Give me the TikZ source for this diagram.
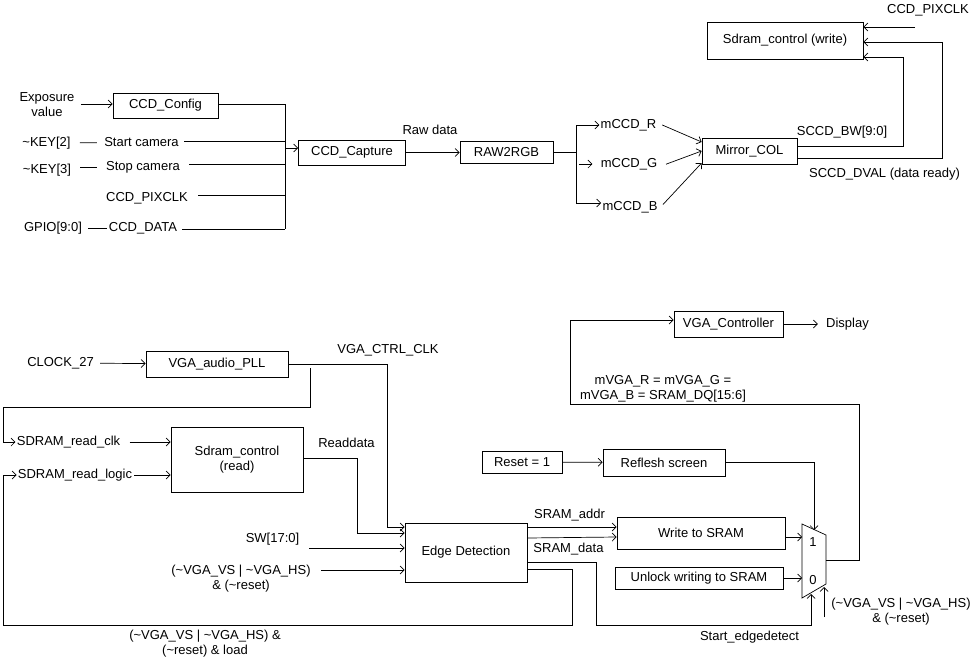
\documentclass[tikz,border=0pt]{standalone}
\usepackage{fontspec}
\setmainfont{Liberation Sans}
\usetikzlibrary{positioning, arrows.meta}

\begin{document}
\begin{tikzpicture}[x=1pt, y=-1pt, line width=0.7pt,
    >={Straight Barb[length=4pt,width=8pt]},
    font=\fontsize{13}{15}\selectfont,
    block/.style={rectangle, draw, inner sep=0pt},
    lbl/.style={inner sep=1pt, align=center}]
    \useasboundingbox (0,0) rectangle (977,661);

    % Nodes (capture path)
    \node[block, minimum width=105, minimum height=25] (cfg) at (165.5,105.5) {CCD\_Config};
    \node[block, minimum width=107, minimum height=25] (capture) at (352,152.5) {CCD\_Capture};
    \node[block, minimum width=93, minimum height=22] (rawrgb) at (506.5,152.5) {RAW2RGB};
    \node[block, minimum width=95, minimum height=26] (mirror) at (749.5,151) {Mirror\_COL};
    \node[block, minimum width=156, minimum height=37] (sdw) at (785,40.5) {Sdram\_control (write)};

    % Labels (capture path)
    \node[lbl] (expo) at (47,104.5) {Exposure\\value};
    \node[lbl] (key2) at (46.5,143) {\textasciitilde KEY[2]};
    \node[lbl] (start) at (141.5,142.5) {Start camera};
    \node[lbl] (key3) at (47,170) {\textasciitilde KEY[3]};
    \node[lbl] (stop) at (143,167) {Stop camera};
    \node[lbl] (pixclk) at (147,198) {CCD\_PIXCLK};
    \node[lbl] (gpio) at (53,228) {GPIO[9:0]};
    \node[lbl] (ccddata) at (143,228) {CCD\_DATA};
    \node[lbl] (raw) at (430,130) {Raw data};
    \node[lbl] (mr) at (628.5,125) {mCCD\_R};
    \node[lbl] (mg) at (629,164) {mCCD\_G};
    \node[lbl] (mb) at (630,207) {mCCD\_B};
    \node[lbl] (bw) at (842,132) {SCCD\_BW[9:0]};
    \node[lbl] (dval) at (884.5,174) {SCCD\_DVAL (data ready)};
    \node[lbl] (pixtop) at (928,10) {CCD\_PIXCLK};

    \coordinate (bustop) at (285,104);
    \coordinate (busbot) at (285,229);
    \coordinate (busmid) at (285,148);
    \coordinate (split) at (576,152.5);
    \coordinate (pixin) at (915,27);

    % Connections (capture path)
    \draw[->, shorten <=5pt] (expo.east |- 0,104) -- (cfg.west |- 0,104);
    \draw (cfg.east |- bustop) -- (bustop) -- (busbot);
    \draw[shorten <=8pt, shorten >=6pt] (key2) -- (start);
    \draw[shorten <=8pt, shorten >=8pt] (key3.east |- 0,167) -- (stop.west |- 0,167);
    \draw[shorten <=5pt, shorten >=1pt] (gpio) -- (ccddata);
    \draw[shorten <=4pt] (start.east |- 0,141) -- (bustop |- 0,141);
    \draw[shorten <=8pt] (stop.east |- 0,164) -- (bustop |- 0,164);
    \draw[shorten <=9pt] (pixclk.east |- 0,195) -- (bustop |- 0,195);
    \draw[shorten <=4pt] (ccddata.east |- busbot) -- (busbot);
    \draw[->] (busmid) -- (capture.west |- busmid);
    \draw[->] (capture) -- (rawrgb);
    \draw (rawrgb.east) -- (split);
    \draw (split |- mr) -- (split |- 0,203);
    \draw[->] (split |- mr) -- (mr.west);
    \draw[->, shorten <=3pt, shorten >=7pt] (split |- mg) -- (mg.west);
    \draw[->] (split |- 0,203) -- (mb.west |- 0,203);
    \draw[->, shorten <=5pt] (mr.east |- 0,123) -- (mirror.west |- 0,142);
    \draw[->, shorten <=8pt] (mg.east |- 0,167) -- (mirror.west |- 0,151);
    \draw[->, shorten <=6pt] (mb.east |- 0,209) -- (mirror.west |- 0,163);
    \draw[->] (mirror.east |- 0,146) -- (903,146) -- (903,57) -- (sdw.east |- 0,57);
    \draw[->] (mirror.east |- 0,158) -- (942,158) -- (942,42) -- (sdw.east |- 0,42);
    \draw[->] (pixin) -- (sdw.east |- pixin);

    % Nodes (display path)
    \node[block, minimum width=142, minimum height=26] (pll) at (217,364) {VGA\_audio\_PLL};
    \node[block, minimum width=132, minimum height=65, align=center] (sdr) at (237,459.5) {Sdram\_control\\(read)};
    \node[block, minimum width=122, minimum height=59] (edge) at (466,552.5) {Edge Detection};
    \node[block, minimum width=80, minimum height=22] (reset) at (522,462) {Reset = 1};
    \node[block, minimum width=122, minimum height=27] (reflesh) at (664,462.5) {Reflesh screen};
    \node[block, minimum width=168, minimum height=32] (wsram) at (701,533) {Write to SRAM};
    \node[block, minimum width=168, minimum height=22] (unlock) at (699,578) {Unlock writing to SRAM};
    \node[block, minimum width=109, minimum height=26] (vgac) at (728.5,324) {VGA\_Controller};

    % Multiplexer
    \draw (802,524) -- (826,535) -- (826,584) -- (802,598) -- cycle;
    \coordinate (muxin1) at (802,537);
    \coordinate (muxin0) at (802,578);
    \coordinate (muxtop) at (814,530);
    \coordinate (muxbot) at (811,594);
    \coordinate (muxsel) at (824,587);
    \coordinate (muxout) at (826,560);
    \node[lbl] (one) at (813,542) {1};
    \node[lbl] (zero) at (813,580) {0};

    % Labels (display path)
    \node[lbl] (clk27) at (60.5,363) {CLOCK\_27};
    \node[lbl] (ctrlclk) at (388,350) {VGA\_CTRL\_CLK};
    \node[lbl] (rclk) at (68.5,442) {SDRAM\_read\_clk};
    \node[lbl] (rlogic) at (75,475) {SDRAM\_read\_logic};
    \node[lbl] (readdata) at (346.5,443) {Readdata};
    \node[lbl] (sw) at (272.5,539) {SW[17:0]};
    \node[lbl] (vsync) at (241,579) {(\textasciitilde VGA\_VS | \textasciitilde VGA\_HS)\\\& (\textasciitilde reset)};
    \node[lbl] (load) at (205,644) {(\textasciitilde VGA\_VS | \textasciitilde VGA\_HS) \&\\(\textasciitilde reset) \& load};
    \node[lbl] (addr) at (569.5,515) {SRAM\_addr};
    \node[lbl] (data) at (568.5,549) {SRAM\_data};
    \node[lbl] (startedge) at (749.5,637) {Start\_edgedetect};
    \node[lbl] (selin) at (901,612) {(\textasciitilde VGA\_VS | \textasciitilde VGA\_HS)\\\& (\textasciitilde reset)};
    \node[lbl] (mvga) at (663,389) {mVGA\_R = mVGA\_G =\\mVGA\_B = SRAM\_DQ[15:6]};
    \node[lbl] (display) at (847.5,324) {Display};

    % Connections (display path)
    \draw[->, shorten <=5pt] (clk27) -- (pll);
    \draw[->] (pll.east) -- (387,364) -- (387,527) -- (edge.west |- 0,527);
    \draw[->] (310,368) -- (310,407) -- (3,407) -- (3,442) -- (rclk.west);
    \draw[->, shorten <=8pt] (rclk.east) -- (sdr.west |- rclk);
    \draw[->, shorten <=1pt] (rlogic.east) -- (sdr.west |- rlogic);
    \draw[->] (sdr.east |- 0,458) -- (357,458) -- (357,533) -- (edge.west |- 0,533);
    \draw[->] (309,548) -- (edge.west |- 0,548);
    \draw[->] (321,570) -- (edge.west |- 0,570);
    \draw[->] (edge.east |- 0,569) -- (572,569) -- (572,625) -- (3,625) -- (3,475) -- (rlogic.west);
    \draw[->] (edge.east |- 0,527) -- (wsram.west |- 0,527);
    \draw[->] (edge.east |- 0,538) -- (wsram.west |- 0,537);
    \draw[->] (edge.east |- 0,562) -- (596,562) -- (596,625) -- (811,625) -- (muxbot);
    \draw[->] (reset) -- (reflesh);
    \draw[->] (reflesh.east) -- (814,462.5) -- (muxtop);
    \draw[->] (wsram.east |- muxin1) -- (muxin1);
    \draw[->] (unlock.east |- muxin0) -- (muxin0);
    \draw[->] (824,617) -- (muxsel);
    \draw[->] (muxout) -- (859,560) -- (859,404) -- (570,404) -- (570,320) -- (vgac.west |- 0,320);
    \draw[->, shorten >=7pt] (vgac) -- (display);
\end{tikzpicture}
\end{document}
